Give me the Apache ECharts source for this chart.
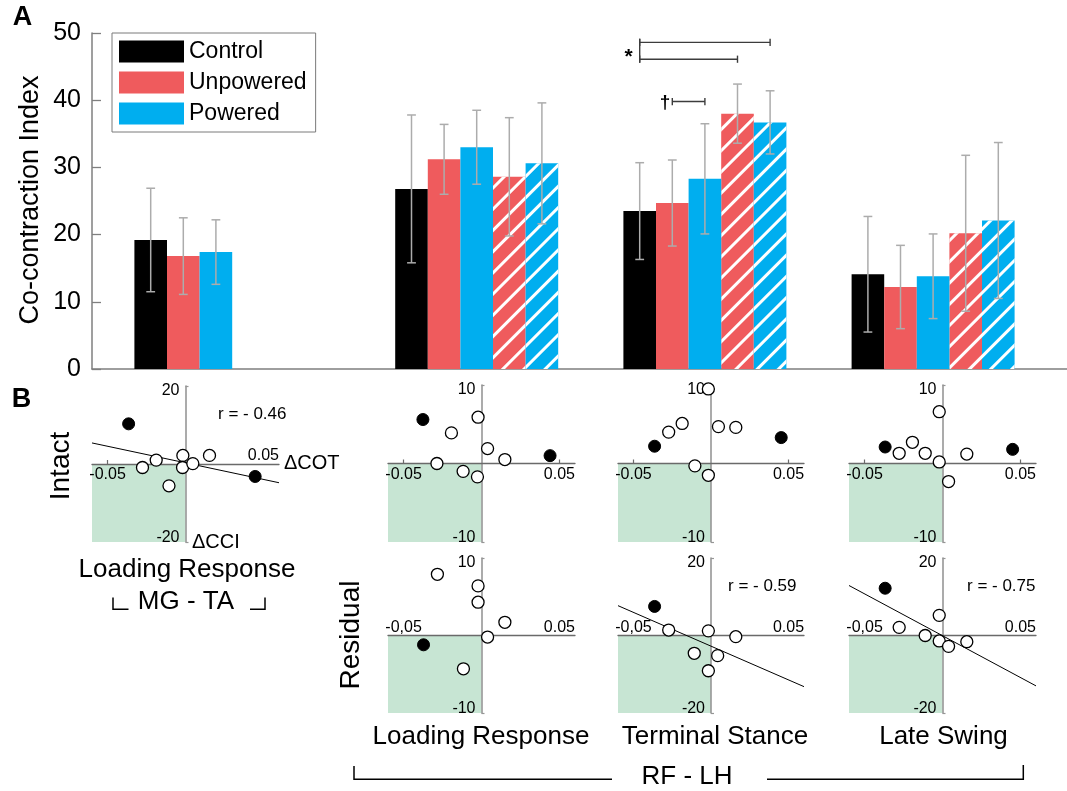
<!DOCTYPE html>
<html>
<head>
<meta charset="utf-8">
<script src="https://cdn.jsdelivr.net/npm/echarts@6/dist/echarts.min.js"></script>
<style>
  html, body { margin: 0; padding: 0; background: #ffffff; }
  #chart { width: 1067px; height: 791px; }
</style>
</head>
<body>
<div id="chart"></div>
<script>
// ---------------- Panel A: co-contraction index per gait phase ----------------
const phaseGroups = ['Loading Response (MG-TA)', 'Loading Response (RF-LH)', 'Terminal Stance (RF-LH)', 'Late Swing (RF-LH)'];
const legendNames = ['Control', 'Unpowered', 'Powered'];
const yTicksA = [0, 10, 20, 30, 40, 50];

const controlMean = [19.2, 26.8, 23.5, 14.1];
const controlSd   = [7.7, 11.0, 7.2, 8.6];
const unpoweredMean = [16.8, 31.2, 24.7, 12.2];
const unpoweredSd   = [5.7, 5.2, 6.4, 6.2];
const poweredMean = [17.4, 33.0, 28.3, 13.8];
const poweredSd   = [4.8, 5.5, 8.2, 6.3];
// residual-limb (hatched) values, not measured for MG-TA
const unpoweredResidualMean = [null, 28.6, 38.0, 20.2];
const unpoweredResidualSd   = [null, 8.8, 4.4, 11.6];
const poweredResidualMean = [null, 30.6, 36.7, 22.1];
const poweredResidualSd   = [null, 9.0, 4.7, 11.6];

// pairwise comparisons in Terminal Stance (bar indices: 0 ctrl, 1 unp, 2 pow, 3 unp-res, 4 pow-res)
const sigComparisons = [
  { group: 2, from: 0, to: 4, level: 48.6 },
  { group: 2, from: 0, to: 3, level: 46.1 },
  { group: 2, from: 1, to: 2, level: 39.8 }
];

// ---------------- Panel B: ΔCCI vs ΔCOT per subject ----------------
const mgtaLRIntactOpen   = [[-0.0017, 2.2], [0.0154, 2.2], [-0.0188, 1.0], [-0.0276, -0.9], [-0.0019, -0.9], [0.0047, 0.1], [-0.0106, -5.6]];
const mgtaLRIntactFilled = [[-0.0365, 10.3], [0.0447, -3.2]];
const mgtaLRIntactFit    = [[-0.06, 5.4], [0.06, -4.8]];

const rflhLRIntactOpen   = [[-0.0022, 5.9], [-0.0193, 3.9], [0.0039, 1.9], [0.0150, 0.5], [-0.0286, 0.0], [-0.0118, -1.0], [-0.0026, -1.7]];
const rflhLRIntactFilled = [[-0.0376, 5.6], [0.0440, 1.0]];

const rflhTSIntactOpen   = [[-0.0017, 9.5], [-0.0273, 4.0], [-0.0186, 5.1], [0.0048, 4.7], [0.0160, 4.6], [-0.0104, -0.3], [-0.0017, -1.5]];
const rflhTSIntactFilled = [[-0.0364, 2.2], [0.0453, 3.3]];

const rflhLSIntactOpen   = [[-0.0021, 6.6], [-0.0278, 1.3], [-0.0193, 2.7], [-0.0111, 1.3], [-0.0021, 0.2], [0.0156, 1.2], [0.0039, -2.3]];
const rflhLSIntactFilled = [[-0.0368, 2.1], [0.0450, 1.8]];

const rflhLRResidOpen   = [[-0.0283, 7.9], [-0.0022, 6.4], [-0.0022, 4.3], [0.0150, 1.7], [0.0039, -0.2], [-0.0116, -4.3]];
const rflhLRResidFilled = [[-0.0372, -1.2]];

const rflhTSResidOpen   = [[-0.0273, 1.4], [-0.0017, 1.2], [0.0160, -0.3], [-0.0108, -4.6], [0.0043, -5.2], [-0.0017, -9.1]];
const rflhTSResidFilled = [[-0.0364, 7.5]];
const rflhTSResidFit    = [[-0.06, 7.7], [0.06, -13.2]];

const rflhLSResidOpen   = [[-0.0278, 2.1], [-0.0021, 5.2], [-0.0111, 0.0], [-0.0021, -1.4], [0.0039, -2.8], [0.0156, -1.6]];
const rflhLSResidFilled = [[-0.0368, 12.2]];
const rflhLSResidFit    = [[-0.06, 12.9], [0.06, -13.0]];

const xTicksB = [-0.05, 0.05];
const xRangeB = [-0.06, 0.06];

// ---------------- styling ----------------
const FONT = 'Liberation Sans, Arial, Helvetica, sans-serif';
const RED = '#ef5b5d';
const BLUE = '#00aeef';
const BLACK = '#000000';
const GREEN = '#c7e5d3';
const ERR_GREY = '#acacac';
const AXIS_GREY = '#7f7f7f';
const HATCH = {
  symbol: 'rect', symbolSize: 1, color: '#ffffff',
  dashArrayX: [1, 0], dashArrayY: [2.6, 11.4], rotation: -Math.PI / 4
};

// ---------------- bar slot layout ----------------
const barDefs = [
  { legend: 'Control',   mean: controlMean,           sd: controlSd,           hatched: false },
  { legend: 'Unpowered', mean: unpoweredMean,         sd: unpoweredSd,         hatched: false },
  { legend: 'Powered',   mean: poweredMean,           sd: poweredSd,           hatched: false },
  { legend: 'Unpowered', mean: unpoweredResidualMean, sd: unpoweredResidualSd, hatched: true },
  { legend: 'Powered',   mean: poweredResidualMean,   sd: poweredResidualSd,   hatched: true }
];
const leadGaps = [1, 5, 2, 2];      // empty slots before each group
const SLOT_COUNT = 29;
const slotNames = [];
for (let i = 0; i < SLOT_COUNT; i++) slotNames.push('s' + i);

const slotOf = [];
let cursor = 0;
phaseGroups.forEach((_, g) => {
  cursor += leadGaps[g];
  slotOf[g] = [];
  barDefs.forEach((d, b) => {
    if (d.mean[g] != null) slotOf[g][b] = cursor++;
  });
});

const barData = {};
legendNames.forEach(n => { barData[n] = new Array(SLOT_COUNT).fill(null); });
const errData = [];
barDefs.forEach((d, b) => {
  phaseGroups.forEach((_, g) => {
    if (d.mean[g] == null) return;
    const s = slotOf[g][b];
    barData[d.legend][s] = d.hatched ? { value: d.mean[g], itemStyle: { decal: HATCH } } : d.mean[g];
    errData.push([s, d.mean[g], d.sd[g]]);
  });
});

// significance bracket segments: [x1, x2, y1, y2]
const sigSegments = [];
const joinByFrom = {};
sigComparisons.forEach(c => {
  const a = slotOf[c.group][c.from], b = slotOf[c.group][c.to];
  sigSegments.push([a, b, c.level, c.level]);
  (joinByFrom[a] = joinByFrom[a] || []).push(c.level);
});
Object.keys(joinByFrom).forEach(k => {
  const lv = joinByFrom[k];
  if (lv.length > 1) sigSegments.push([+k, +k, Math.min(...lv), Math.max(...lv)]);
});

const colorOf = { Control: BLACK, Unpowered: RED, Powered: BLUE };

// ---------------- option assembly ----------------
const grids = [
  { left: 92, top: 33, width: 975, height: 336, outerBoundsMode: 'none' },      // panel A axes
  { left: 101.8, top: 33, width: 945.4, height: 336, outerBoundsMode: 'none' }  // panel A bars
];
const xAxes = [
  { gridIndex: 0, type: 'value', min: 0, max: 1,
    axisLine: { show: true, onZero: false, lineStyle: { color: AXIS_GREY, width: 1.5 } },
    axisTick: { show: false }, axisLabel: { show: false }, splitLine: { show: false } },
  { gridIndex: 1, type: 'category', data: slotNames, show: false, boundaryGap: true }
];
const yAxes = [
  { gridIndex: 0, type: 'value', min: 0, max: 50,
    axisLine: { show: true, onZero: false, lineStyle: { color: AXIS_GREY, width: 1.5 } },
    axisTick: { show: true, inside: true, length: 9, customValues: yTicksA, lineStyle: { color: AXIS_GREY, width: 1.3 } },
    axisLabel: { customValues: yTicksA, fontSize: 25, color: '#000', margin: 11, fontFamily: FONT },
    splitLine: { show: false } },
  { gridIndex: 1, type: 'value', min: 0, max: 50, show: false }
];

const series = [];
legendNames.forEach(n => {
  series.push({
    name: n, type: 'bar', xAxisIndex: 1, yAxisIndex: 1,
    data: barData[n], barGap: '-100%', barCategoryGap: '0%',
    itemStyle: { color: colorOf[n], borderWidth: 0 },
    z: 2, silent: true
  });
});
series.push({
  type: 'custom', xAxisIndex: 1, yAxisIndex: 1, z: 4, silent: true,
  data: errData,
  renderItem(params, api) {
    const x = api.value(0), m = api.value(1), s = api.value(2);
    const hi = api.coord([x, m + s]);
    const lo = api.coord([x, m - s]);
    const half = api.size([1, 0])[0] * 0.135;
    const st = { stroke: ERR_GREY, lineWidth: 1.5 };
    return { type: 'group', children: [
      { type: 'line', shape: { x1: hi[0], y1: hi[1], x2: lo[0], y2: lo[1] }, style: st },
      { type: 'line', shape: { x1: hi[0] - half, y1: hi[1], x2: hi[0] + half, y2: hi[1] }, style: st },
      { type: 'line', shape: { x1: lo[0] - half, y1: lo[1], x2: lo[0] + half, y2: lo[1] }, style: st }
    ] };
  }
});
series.push({
  type: 'custom', xAxisIndex: 1, yAxisIndex: 1, z: 4, silent: true,
  data: sigSegments,
  renderItem(params, api) {
    const p1 = api.coord([api.value(0), api.value(2)]);
    const p2 = api.coord([api.value(1), api.value(3)]);
    const st = { stroke: '#3c3c3c', lineWidth: 1.4 };
    const cap = 3.6;
    if (api.value(0) === api.value(1)) {
      return { type: 'line', shape: { x1: p1[0], y1: Math.max(p1[1], p2[1]) + cap, x2: p1[0], y2: Math.min(p1[1], p2[1]) - cap }, style: st };
    }
    return { type: 'group', children: [
      { type: 'line', shape: { x1: p1[0], y1: p1[1], x2: p2[0], y2: p2[1] }, style: st },
      { type: 'line', shape: { x1: p1[0], y1: p1[1] - cap, x2: p1[0], y2: p1[1] + cap }, style: st },
      { type: 'line', shape: { x1: p2[0], y1: p2[1] - cap, x2: p2[0], y2: p2[1] + cap }, style: st }
    ] };
  }
});

// ---------------- panel B small multiples ----------------
const panels = [
  { left: 92,  top: 386, width: 187, height: 156, lim: 20, below: [-0.05], above: [0.05], comma: false,
    open: mgtaLRIntactOpen, filled: mgtaLRIntactFilled, fit: mgtaLRIntactFit },
  { left: 388, top: 385, width: 187, height: 157, lim: 10, below: xTicksB, above: [], comma: false,
    open: rflhLRIntactOpen, filled: rflhLRIntactFilled, fit: null },
  { left: 618, top: 385, width: 186, height: 157, lim: 10, below: xTicksB, above: [], comma: false,
    open: rflhTSIntactOpen, filled: rflhTSIntactFilled, fit: null },
  { left: 849, top: 385, width: 187, height: 157, lim: 10, below: xTicksB, above: [], comma: false,
    open: rflhLSIntactOpen, filled: rflhLSIntactFilled, fit: null },
  { left: 388, top: 558, width: 187, height: 155, lim: 10, below: [], above: xTicksB, comma: true,
    open: rflhLRResidOpen, filled: rflhLRResidFilled, fit: null },
  { left: 618, top: 558, width: 186, height: 155, lim: 20, below: [], above: xTicksB, comma: true,
    open: rflhTSResidOpen, filled: rflhTSResidFilled, fit: rflhTSResidFit },
  { left: 849, top: 558, width: 187, height: 155, lim: 20, below: [], above: xTicksB, comma: true,
    open: rflhLSResidOpen, filled: rflhLSResidFilled, fit: rflhLSResidFit }
];

function xTickText(v, comma) {
  const s = v.toFixed(2);
  return comma && v < 0 ? s.replace('.', ',') : s;
}

panels.forEach(p => {
  const gi = grids.length;
  grids.push({ left: p.left, top: p.top, width: p.width, height: p.height, outerBoundsMode: 'none' });
  // axes cross at the origin: shift each axis inward to where the other axis reads zero
  const xOffset = -p.height * (0 - (-p.lim)) / (2 * p.lim);
  const yOffset = -p.width * (0 - xRangeB[0]) / (xRangeB[1] - xRangeB[0]);
  const xi = xAxes.length;
  xAxes.push({
    gridIndex: gi, type: 'value', min: xRangeB[0], max: xRangeB[1], position: 'bottom', offset: xOffset, z: 2,
    axisLine: { show: true, onZero: false, lineStyle: { color: '#6a6a6a', width: 1.3 } },
    axisTick: { show: p.below.length > 0, inside: true, length: 4, customValues: p.below.length ? p.below : [0], lineStyle: { color: '#6a6a6a', width: 1.2 } },
    axisLabel: { show: p.below.length > 0, customValues: p.below.length ? p.below : [0], margin: 3,
      fontSize: 16, color: '#000', fontFamily: FONT, formatter: v => xTickText(v, p.comma) },
    splitLine: { show: false }
  });
  if (p.above.length) {
    xAxes.push({
      gridIndex: gi, type: 'value', min: xRangeB[0], max: xRangeB[1], position: 'bottom', offset: xOffset, z: 2,
      axisLine: { show: false, onZero: false },
      axisTick: { show: false },
      axisLabel: { inside: true, customValues: p.above, margin: 0,
        fontSize: 16, color: '#000', fontFamily: FONT, formatter: v => xTickText(v, p.comma) },
      splitLine: { show: false }
    });
  }
  const yi = yAxes.length;
  yAxes.push({
    gridIndex: gi, type: 'value', min: -p.lim, max: p.lim, position: 'left', offset: yOffset, z: 2,
    axisLine: { show: true, onZero: false, lineStyle: { color: '#969696', width: 1.6 } },
    axisTick: { show: true, inside: true, length: 3, customValues: [-p.lim, p.lim], lineStyle: { color: '#969696', width: 1.2 } },
    axisLabel: { customValues: [-p.lim, p.lim], margin: 6,
      formatter: v => (v > 0 ? '{hi|' + v + '}' : '{lo|' + v + '}'),
      rich: {
        hi: { fontSize: 16, color: '#000', fontFamily: FONT, padding: [9, 0, 0, 0] },
        lo: { fontSize: 16, color: '#000', fontFamily: FONT, padding: [0, 0, 9, 0] }
      } },
    splitLine: { show: false }
  });
  // third quadrant shading (both ΔCOT and ΔCCI negative)
  series.push({
    type: 'custom', xAxisIndex: xi, yAxisIndex: yi, z: 1, silent: true,
    data: [[xRangeB[0], -p.lim]],
    renderItem(params, api) {
      const a = api.coord([api.value(0), api.value(1)]);
      const o = api.coord([0, 0]);
      return { type: 'rect', shape: { x: a[0], y: o[1], width: o[0] - a[0], height: a[1] - o[1] }, style: { fill: GREEN } };
    }
  });
  if (p.fit) {
    series.push({
      type: 'line', xAxisIndex: xi, yAxisIndex: yi, z: 3, silent: true,
      data: p.fit, symbol: 'none', lineStyle: { color: '#000', width: 1 }
    });
  }
  series.push({
    type: 'scatter', xAxisIndex: xi, yAxisIndex: yi, z: 5, silent: true,
    data: p.open, symbol: 'circle', symbolSize: 12,
    itemStyle: { color: '#ffffff', borderColor: '#000', borderWidth: 1.3, opacity: 1 }
  });
  series.push({
    type: 'scatter', xAxisIndex: xi, yAxisIndex: yi, z: 5, silent: true,
    data: p.filled, symbol: 'circle', symbolSize: 12,
    itemStyle: { color: '#000', borderColor: '#000', borderWidth: 1, opacity: 1 }
  });
});

// ---------------- text and bracket decorations ----------------
function txt(text, x, y, size, opts) {
  opts = opts || {};
  return {
    type: 'text', x: x, y: y, rotation: opts.rotation || 0, z: 10, silent: true,
    style: {
      text: text, fontSize: size, fontFamily: FONT, fontWeight: opts.bold ? 'bold' : 'normal',
      fill: '#000', align: opts.align || 'center', verticalAlign: 'middle',
      textAlign: opts.align || 'center', textVerticalAlign: 'middle'
    }
  };
}
function poly(points) {
  return { type: 'polyline', z: 10, silent: true, shape: { points: points }, style: { stroke: '#000', lineWidth: 1.5, fill: null } };
}

const graphics = [
  txt('A', 22.5, 18, 27, { bold: true }),
  txt('B', 21.5, 400, 27, { bold: true }),
  txt('Co-contraction Index', 31, 200, 27, { rotation: Math.PI / 2 }),
  txt('*', 628.5, 57, 21, { bold: true }),
  txt('†', 665, 103, 19, { bold: true }),
  txt('ΔCOT', 284, 463, 20, { align: 'left' }),
  txt('ΔCCI', 192, 542, 20, { align: 'left' }),
  txt('r = - 0.46', 218, 414, 17, { align: 'left' }),
  txt('r = - 0.59', 728, 586, 17, { align: 'left' }),
  txt('r = - 0.75', 967, 586, 17, { align: 'left' }),
  txt('Intact', 61, 466, 28, { rotation: Math.PI / 2 }),
  txt('Residual', 351, 635, 28, { rotation: Math.PI / 2 }),
  txt('Loading Response', 187, 570, 26),
  txt('MG - TA', 186, 602, 26),
  txt('Loading Response', 481, 737, 26),
  txt('Terminal Stance', 715, 737, 26),
  txt('Late Swing', 943.5, 737, 26),
  txt('RF - LH', 687, 777, 26),
  poly([[113, 597.5], [113, 609.3], [128.5, 609.3]]),
  poly([[250, 609.3], [265, 609.3], [265, 597.5]]),
  poly([[354, 766], [354, 779.3], [612, 779.3]]),
  poly([[767, 779.3], [1023.3, 779.3], [1023.3, 765]])
];

const chart = echarts.init(document.getElementById('chart'), null, { renderer: 'canvas', width: 1067, height: 791 });
chart.setOption({
  animation: false,
  backgroundColor: '#ffffff',
  textStyle: { fontFamily: FONT },
  legend: {
    data: legendNames, orient: 'vertical', left: 112, top: 33,
    itemWidth: 65, itemHeight: 22, itemGap: 8, icon: 'rect',
    padding: [7, 9, 7, 7], borderColor: '#7a7a7a', borderWidth: 1, backgroundColor: '#ffffff',
    textStyle: { fontSize: 23, color: '#000', fontFamily: FONT },
    selectedMode: false
  },
  grid: grids,
  xAxis: xAxes,
  yAxis: yAxes,
  series: series,
  graphic: graphics
});
</script>
</body>
</html>
